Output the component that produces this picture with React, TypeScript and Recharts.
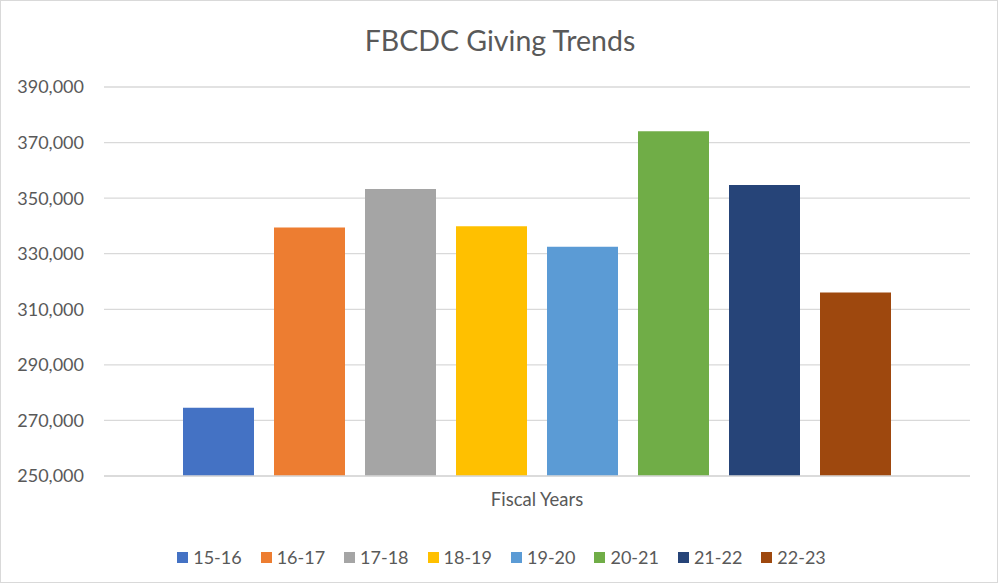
import React from "react";
import { BarChart, Bar, XAxis, YAxis, CartesianGrid, Legend } from "recharts";

const categories = ["Fiscal Years"];
const seriesKeys = ["15-16", "16-17", "17-18", "18-19", "19-20", "20-21", "21-22", "22-23"];
const seriesValues = [274600, 339400, 353300, 339900, 332500, 374100, 354700, 316000];
const seriesColors = ["#4472C4", "#ED7D31", "#A5A5A5", "#FFC000", "#5B9BD5", "#70AD47", "#264478", "#9E480E"];
const yTicks = [250000, 270000, 290000, 310000, 330000, 350000, 370000, 390000];

const data = categories.map((name) => {
  const row: Record<string, string | number> = { name };
  seriesKeys.forEach((k, i) => {
    row[k] = seriesValues[i];
  });
  return row;
});

const FONT = "Lato, 'Open Sans', sans-serif";
const TEXT = "#595959";

const renderLegend = (props: any) => {
  const payload = props.payload || [];
  return (
    <div
      style={{
        height: 50,
        paddingTop: 12,
        paddingLeft: 3,
        boxSizing: "border-box",
        display: "flex",
        justifyContent: "center",
        gap: 19,
        fontFamily: FONT,
        fontSize: 18,
        color: TEXT,
        lineHeight: "20px",
      }}
    >
      {payload.map((p: any) => (
        <div key={p.value} style={{ display: "flex", alignItems: "center" }}>
          <span style={{ width: 11, height: 11, background: p.color, display: "inline-block", marginRight: 5 }} />
          <span>{p.value}</span>
        </div>
      ))}
    </div>
  );
};

export default function App() {
  return (
    <div style={{ position: "absolute", left: 0, top: 0, width: 1000, height: 586, background: "#fff" }}>
      <div
        style={{
          position: "absolute",
          left: 0,
          top: 0,
          width: 996,
          height: 581,
          border: "1px solid #D9D9D9",
        }}
      />
      <div
        style={{
          position: "absolute",
          left: 0,
          top: 22,
          width: 1000,
          textAlign: "center",
          fontFamily: FONT,
          fontSize: 28.5,
          color: TEXT,
          lineHeight: "36px",
        }}
      >
        FBCDC Giving Trends
      </div>
      <div style={{ position: "absolute", left: 0, top: 0 }}>
        <BarChart
          width={1000}
          height={586}
          data={data}
          margin={{ top: 87, right: 30, left: 0, bottom: 10 }}
          barCategoryGap={79}
          barGap={20}
        >
          <CartesianGrid vertical={false} stroke="#D9D9D9" strokeWidth={1.3} />
          <XAxis
            dataKey="name"
            height={50}
            tickLine={false}
            tickSize={0}
            tickMargin={17}
            axisLine={{ stroke: "#D9D9D9", strokeWidth: 1.3 }}
            tick={{ fill: TEXT, fontSize: 18.5, fontFamily: FONT }}
          />
          <YAxis
            width={104}
            domain={[250000, 390000]}
            ticks={yTicks}
            interval={0}
            allowDataOverflow
            axisLine={false}
            tickLine={false}
            tickSize={0}
            tickMargin={20}
            tickFormatter={(v: number) => v.toLocaleString("en-US")}
            tick={{ fill: TEXT, fontSize: 18, fontFamily: FONT }}
          />
          <Legend
            verticalAlign="bottom"
            content={renderLegend}
            wrapperStyle={{ left: 0, width: 1000 }}
          />
          {seriesKeys.map((k, i) => (
            <Bar key={k} dataKey={k} name={k} fill={seriesColors[i]} isAnimationActive={false} />
          ))}
        </BarChart>
      </div>
    </div>
  );
}
